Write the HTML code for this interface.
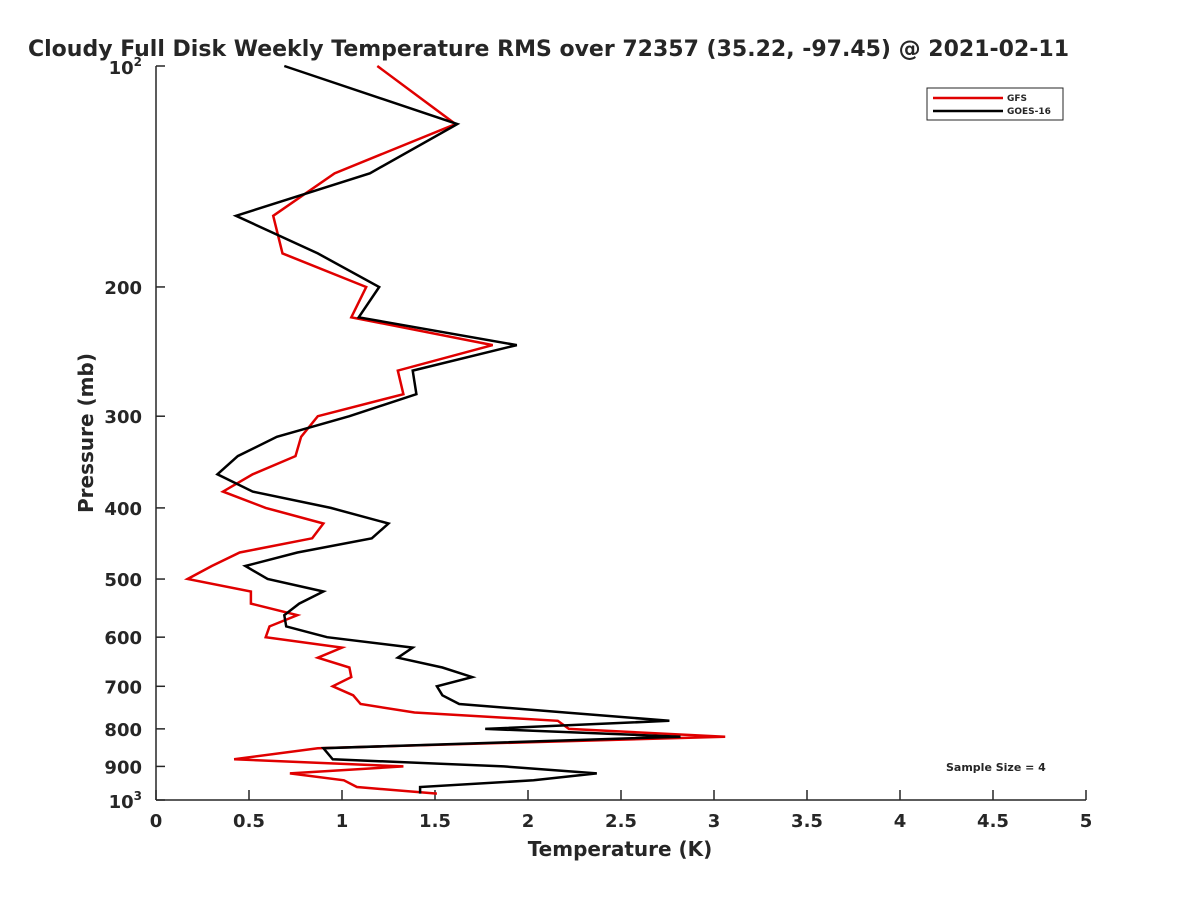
<!DOCTYPE html>
<html><head><meta charset="utf-8"><style>
body{margin:0;background:#fff;font-family:"Liberation Sans",sans-serif}
svg text{font-family:"DejaVu Sans","Liberation Sans",sans-serif;font-weight:bold;fill:#262626}
</style></head><body>
<svg id="c" width="1200" height="900" xmlns="http://www.w3.org/2000/svg">
<text x="28" y="56" font-size="22" fill="#000">Cloudy Full Disk Weekly Temperature RMS over 72357 (35.22, -97.45) @ 2021-02-11</text>
<g id="axes"></g>
<g id="series"></g>
<g>
<rect x="927" y="88" width="136" height="32" fill="#fff" stroke="#262626" stroke-width="1"/>
<line x1="933" y1="98" x2="1003" y2="98" stroke="#e00000" stroke-width="2.5"/>
<text x="1007" y="101" font-size="9">GFS</text>
<line x1="933" y1="111" x2="1003" y2="111" stroke="#000" stroke-width="2.5"/>
<text x="1007" y="114" font-size="9">GOES-16</text>
</g>
<text x="946" y="771" font-size="11">Sample Size = 4</text>
<text x="620" y="856" font-size="20" text-anchor="middle">Temperature (K)</text>
<text transform="translate(93,433) rotate(-90)" font-size="20" text-anchor="middle">Pressure (mb)</text>
</svg>
<script>
const levels=[100,120,140,160,180,200,220,240,260,280,300,320,340,360,380,400,420,440,460,480,500,520,540,560,580,600,620,640,660,680,700,720,740,760,780,800,820,850,880,900,920,940,960,980];
const goes=[0.69,1.62,1.15,0.43,0.87,1.20,1.09,1.94,1.38,1.40,1.04,0.65,0.44,0.33,0.52,0.94,1.25,1.16,0.76,0.48,0.60,0.90,0.77,0.69,0.70,0.92,1.38,1.30,1.54,1.70,1.51,1.54,1.63,2.20,2.76,1.77,2.82,0.90,0.95,1.87,2.37,2.03,1.42,1.42];
const gfs=[1.19,1.61,0.96,0.63,0.68,1.13,1.05,1.81,1.30,1.33,0.87,0.78,0.75,0.52,0.36,0.59,0.90,0.84,0.45,0.30,0.17,0.51,0.51,0.76,0.61,0.59,1.00,0.87,1.04,1.05,0.95,1.06,1.10,1.39,2.16,2.22,3.06,0.87,0.42,1.33,0.72,1.01,1.08,1.51];
const xTicks=[0,0.5,1,1.5,2,2.5,3,3.5,4,4.5,5];
const yTicks=[200,300,400,500,600,700,800,900];
const NS="http://www.w3.org/2000/svg";
const X0=156,X1=1086,YT=66,YB=800;
const xs=v=>X0+(X1-X0)*v/5;
const ys=p=>YT+(YB-YT)*(Math.log10(p)-2);
function mk(t,a,parent){const e=document.createElementNS(NS,t);for(const k in a)e.setAttribute(k,a[k]);parent.appendChild(e);return e;}
const ax=document.getElementById('axes');
const xl=mk('line',{x1:X0,y1:YB,x2:X1,y2:YB,stroke:'#262626','stroke-width':1.5},ax);


const yl=mk('line',{x1:X0,y1:YT,x2:X0,y2:YB,stroke:'#262626','stroke-width':1.5},ax);


xTicks.forEach(v=>{
 const t=mk('line',{x1:xs(v),y1:YB,x2:xs(v),y2:YB-10,stroke:'#262626','stroke-width':1.5},ax);
 
 
 const l=mk('text',{x:xs(v),y:YB+27,'font-size':18,'text-anchor':'middle'},ax);
 l.textContent=String(v);
 
 
});
[100,1000].concat(yTicks).forEach(p=>{
 const t=mk('line',{x1:X0,y1:ys(p),x2:X0+9,y2:ys(p),stroke:'#262626','stroke-width':1.5},ax);
 
 
});
yTicks.forEach(p=>{
 const l=mk('text',{x:X0-14,y:ys(p)+7,'font-size':18,'text-anchor':'end'},ax);
 l.textContent=String(p);
 
 
});
[[100,'2'],[1000,'3']].forEach(([p,e])=>{
 const l=mk('text',{x:X0-14,y:ys(p)+8,'font-size':18,'text-anchor':'end'},ax);
 l.innerHTML='10<tspan font-size="12" dy="-8">'+e+'</tspan>';
 
 
});
const sg=document.getElementById('series');
function line(vals,color,name){
 const d=vals.map((v,i)=>(i?'L':'M')+xs(v).toFixed(1)+' '+ys(levels[i]).toFixed(1)).join(' ');
 const p=mk('path',{d:d,fill:'none',stroke:color,'stroke-width':2.5,'stroke-linejoin':'miter'},sg);
 
 
}
line(gfs,'#e00000','gfs-line');
line(goes,'#000000','goes16-line');
</script>
</body></html>
